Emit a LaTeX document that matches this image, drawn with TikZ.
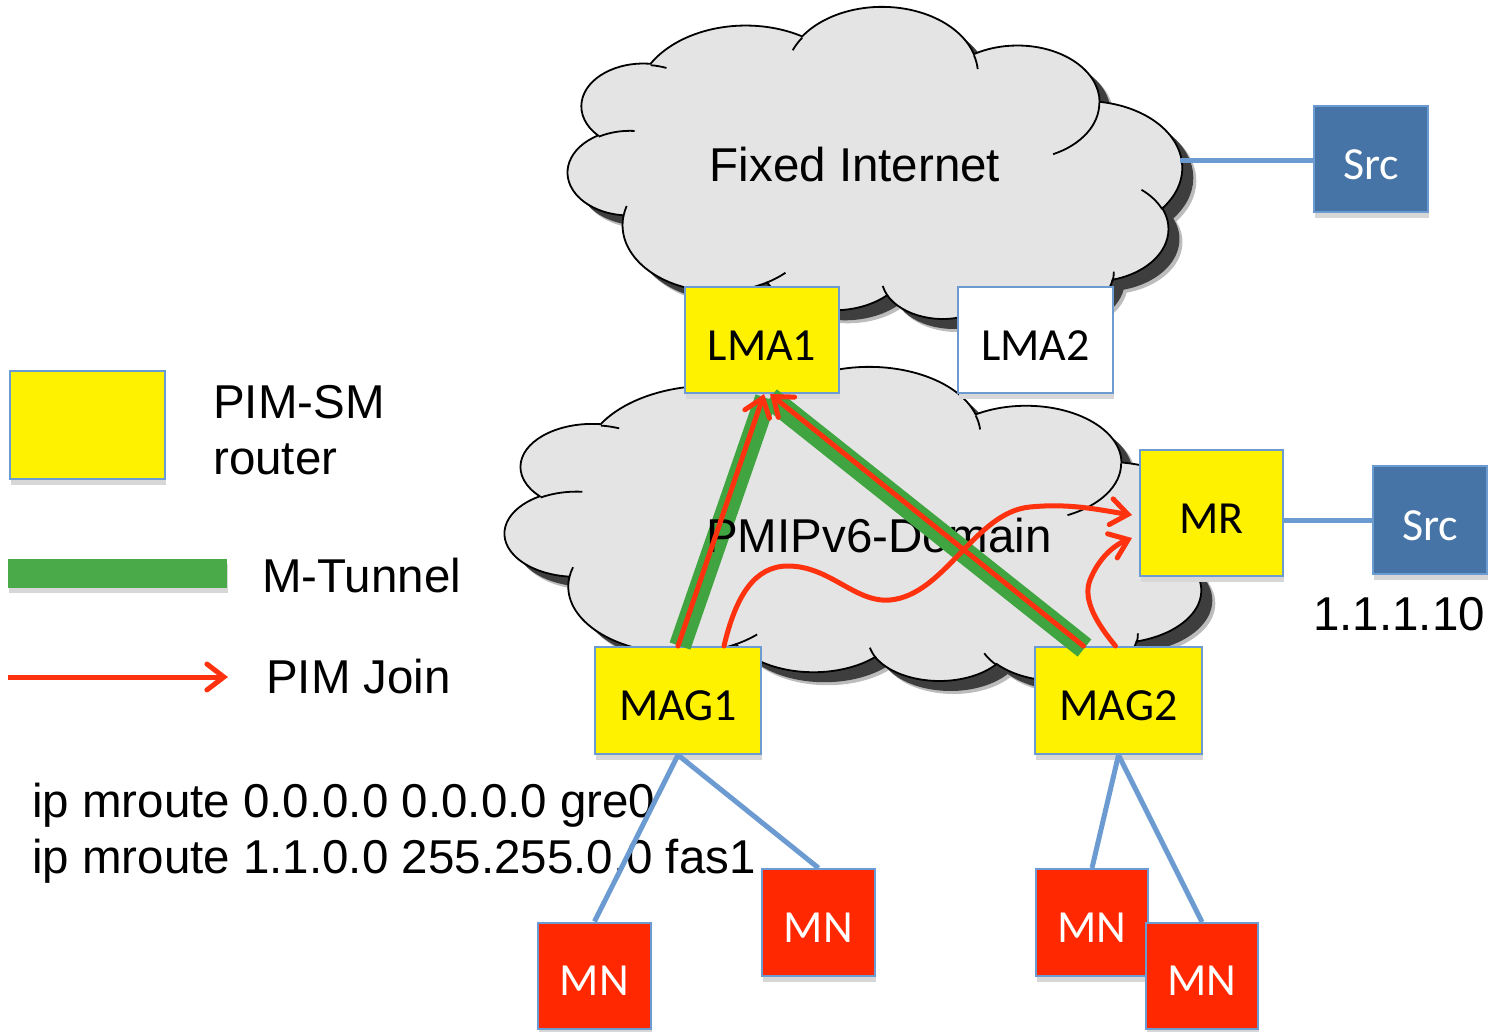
\documentclass[tikz,border=0pt]{standalone}
\usepackage{fontspec}
\setmainfont{Liberation Sans}
\newfontfamily\calib{Carlito}
\usetikzlibrary{arrows.meta,shadows,calc}

\definecolor{boxblue}{RGB}{108,155,210}
\definecolor{srcblue}{RGB}{70,116,166}
\definecolor{mnred}{RGB}{255,40,0}
\definecolor{tgreen}{RGB}{64,165,64}
\definecolor{jred}{RGB}{255,50,15}
\definecolor{cloudgray}{RGB}{228,228,228}
\definecolor{cshadow}{RGB}{62,62,62}
\definecolor{boxshadow}{RGB}{215,215,215}

% DrawingML-style arcTo (visual angles) converted to TikZ parametric arcs
\newcommand\parc[4]{arc[x radius=#1, y radius=#2,
  start angle={atan2(#1*sin(#3),#2*cos(#3))},
  delta angle={mod(atan2(#1*sin(#3+#4),#2*cos(#3+#4))-atan2(#1*sin(#3),#2*cos(#3))+720,360)}]}

\newcommand\cloudoutline{(3.9,14.37)
  \parc{6.753}{9.190}{-190.4875}{123.7805}
  \parc{5.333}{7.267}{-144.1024}{89.9452}
  \parc{4.365}{5.945}{-145.8079}{99.7230}
  \parc{4.857}{6.595}{-130.9861}{117.2417}
  \parc{5.333}{7.273}{-78.7089}{109.0269}
  \parc{6.775}{9.220}{-46.2673}{130.2690}
  \parc{5.785}{7.867}{0.6250}{114.0333}
  \parc{6.752}{9.215}{22.4516}{115.1726}
  \parc{7.720}{10.543}{66.2426}{75.7110}
  \parc{4.360}{5.918}{-274.9421}{146.7356}
  \parc{4.345}{5.945}{-246.8285}{152.5189} -- cycle}

\newcommand\cloudticks{
  (4.693,26.177) \parc{4.345}{5.945}{86.7420}{26.4295}
  (6.928,34.899) \parc{4.360}{5.918}{73.6105}{11.4475}
  (16.478,39.090) \parc{6.752}{9.215}{137.6242}{14.0811}
  (28.827,34.751) \parc{6.752}{9.215}{6.4533}{15.9984}
  (34.129,22.954) \parc{5.785}{7.867}{-70.2924}{70.9174}
  (41.798,15.354) \parc{5.333}{7.273}{30.3180}{27.7515}
  (38.324,5.426) \parc{4.857}{6.595}{-13.7443}{14.8589}
  (29.078,3.952) \parc{4.857}{6.595}{-149.1815}{18.1954}
  (22.141,4.720) \parc{4.365}{5.945}{-163.4943}{17.6864}
  (14.000,5.192) \parc{6.753}{9.190}{-66.7070}{12.3194}
  (4.127,15.789) \parc{6.753}{9.190}{157.6544}{11.8582}}

% #1,#2 = top-left corner, #3 = width, #4 = height (shape flipped vertically)
\newcommand\drawcloud[4]{%
  \begin{scope}[shift={(#1+14,#2+#4+13)}, xscale=#3/43.2, yscale=-#4/43.2]
    \fill[cshadow, opacity=0.35] \cloudoutline;
  \end{scope}
  \begin{scope}[shift={(#1+11,#2+#4+10)}, xscale=#3/43.2, yscale=-#4/43.2]
    \fill[cshadow] \cloudoutline;
  \end{scope}
  \begin{scope}[shift={(#1,#2+#4)}, xscale=#3/43.2, yscale=-#4/43.2]
    \filldraw[fill=cloudgray, draw=black, line width=1.8pt] \cloudoutline;
    \draw[line width=1.8pt] \cloudticks;
  \end{scope}}

\begin{document}
\begin{tikzpicture}[x=1pt, y=-1pt,
  font=\fontsize{47.5}{56}\selectfont,
  rbox/.style={draw=boxblue, line width=2pt, inner sep=0pt,
    font=\calib\fontsize{46}{55}\selectfont, text height=46pt, text depth=6pt,
    drop shadow={shadow xshift=1pt, shadow yshift=-6pt, fill=boxshadow, opacity=1}},
  ybox/.style={rbox, fill=yellow},
  wbox/.style={rbox, fill=white},
  sbox/.style={rbox, fill=srcblue, text=white},
  mbox/.style={rbox, fill=mnred, text=white},
  tunnel/.style={draw=tgreen, line width=22pt},
  pimjoin/.style={draw=jred, line width=5pt, line cap=round,
    -{Straight Barb[length=17pt, width=26pt, line cap=round]}},
  link/.style={draw=boxblue, line width=5pt},
  txt/.style={inner sep=0pt}]

\useasboundingbox (0,0) rectangle (1488,1031);

% clouds
\drawcloud{568}{8}{614}{312}
\drawcloud{505}{368}{712}{314}

\node[txt] (fi) at (855,165) {Fixed Internet};

% legend
\node[ybox, minimum width=155pt, minimum height=108pt] (leg) at (87.5,425) {};
\node[txt, anchor=base west] (legt1) at (213,418) {PIM-SM};
\node[txt, anchor=base west] (legt2) at (213,474) {router};
\coordinate (g1) at (8,573.5);
\coordinate (g2) at (227,573.5);
\draw[draw=boxshadow, line width=29pt] ($(g1)+(1,5)$) -- ($(g2)+(1,5)$);
\draw[draw=tgreen!95!white, line width=29pt] (g1) -- (g2);
\node[txt, anchor=base west] (legm) at (262,592) {M-Tunnel};
\coordinate (r1) at (8,677);
\coordinate (r2) at (228,677);
\draw[pimjoin, line cap=butt] (r1) -- (r2);
\node[txt, anchor=base west] (legj) at (266,693) {PIM Join};

% boxes
\node[ybox, minimum width=154pt, minimum height=106pt] (lma1) at (762,340) {LMA1};
\node[wbox, minimum width=155pt, minimum height=106pt] (lma2) at (1035.5,340) {LMA2};
\node[ybox, minimum width=143pt, minimum height=126pt] (mr) at (1211.5,513) {MR};
\node[ybox, minimum width=166pt, minimum height=107pt] (mag1) at (678,700.5) {MAG1};
\node[ybox, minimum width=167pt, minimum height=107pt] (mag2) at (1118.5,700.5) {MAG2};
\node[sbox, minimum width=114pt, minimum height=106pt] (src1) at (1371,159) {Src};
\node[sbox, minimum width=114pt, minimum height=108pt] (src2) at (1430,520) {Src};
\node[txt, anchor=base west] (ip) at (1313,630) {1.1.1.10};

\node[mbox, minimum width=113pt, minimum height=106pt] (mn1) at (594.5,975.5) {MN};
\node[mbox, minimum width=113pt, minimum height=107pt] (mn2) at (818.5,922.5) {MN};
\node[mbox, minimum width=112pt, minimum height=107pt] (mn3) at (1092,922.5) {MN};

% source links
\coordinate (cloudR) at (1180,160);
\draw[link] (cloudR) -- (src1.west |- cloudR);
\draw[link] (mr.east |- 0,520) -- (src2.west |- 0,520);

% tunnels and domain label
\draw[tunnel] ([xshift=2pt]mag1.north) -- ([xshift=4pt,yshift=-4pt]lma1.south);
\node[txt, anchor=base] (pd) at (879,552) {PMIPv6-Domain};
\draw[tunnel] ([xshift=8pt,yshift=-4pt]lma1.south) -- ([xshift=-34pt,yshift=-2pt]mag2.north);

% PIM joins
\draw[pimjoin] (mag1.north) -- ([xshift=2pt]lma1.south);
\draw[pimjoin] ([xshift=-35pt]mag2.north) -- ([xshift=8pt]lma1.south);
\draw[pimjoin] ([xshift=46pt]mag1.north) .. controls (736,595) and (755,566) .. (788,566)
  .. controls (830,566) and (855,603) .. (890,600)
  .. controls (945,595) and (975,512) .. (1030,507)
  .. controls (1070,503) and (1100,510) .. ([xshift=-7pt]mr.west |- 0,515);
\draw[pimjoin] ([xshift=-3pt]mag2.north) .. controls (1098,625) and (1082,600) .. (1090,580)
  .. controls (1098,560) and (1112,546) .. ([xshift=-7pt]mr.west |- 0,538);

% mroute text
\node[txt, anchor=base west] (mr1) at (32,817) {ip mroute 0.0.0.0 0.0.0.0 gre0};
\node[txt, anchor=base west] (mr2) at (32,873) {ip mroute 1.1.0.0 255.255.0.0 fas1};

% MN links
\draw[link] (mag1.south) -- (mn1.north);
\draw[link] (mag1.south) -- (mn2.north);
\draw[link] (mag2.south) -- (mn3.north);
\draw[link] (mag2.south) -- (1202,922);
\node[mbox, minimum width=112pt, minimum height=106pt] (mn4) at (1202,975.5) {MN};
\end{tikzpicture}
\end{document}
